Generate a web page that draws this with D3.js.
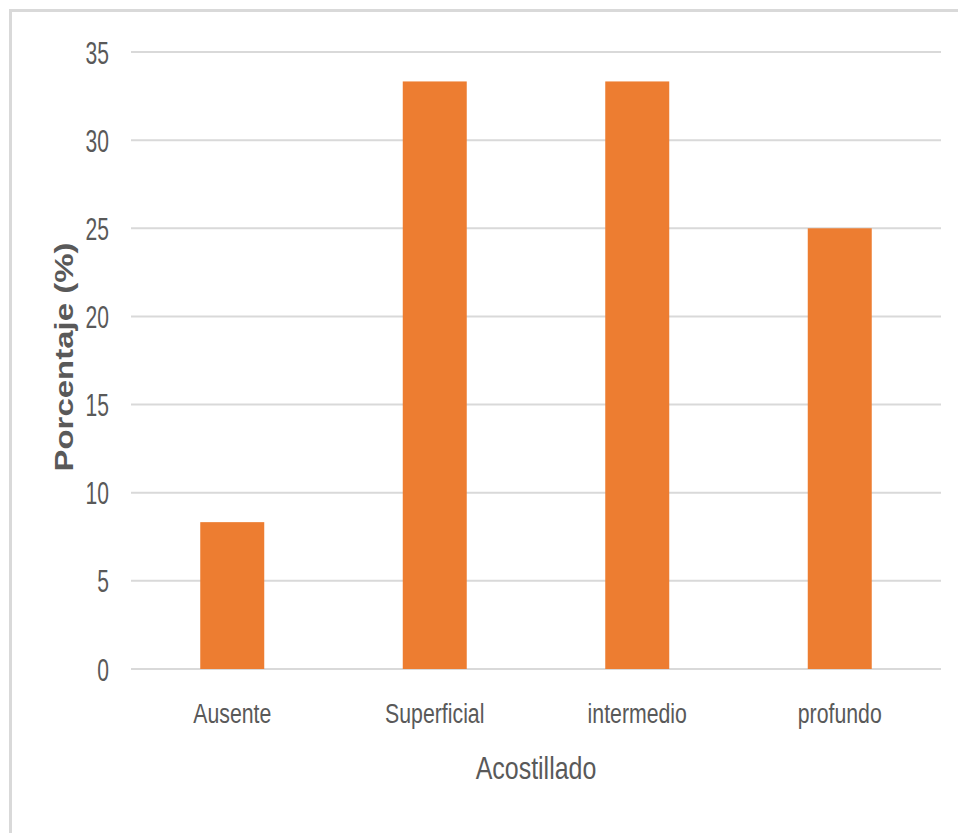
<!DOCTYPE html>
<html>
<head>
<meta charset="utf-8">
<script src="https://cdn.jsdelivr.net/npm/d3@7"></script>
<style>
  html, body { margin: 0; padding: 0; background: #ffffff; }
  svg { display: block; }
</style>
</head>
<body>
<script>
// Acostillado: share of cases per category (%)
const categories = ["Ausente", "Superficial", "intermedio", "profundo"];
const percentages = [8.33, 33.33, 33.33, 25];
const yTicks = [0, 5, 10, 15, 20, 25, 30, 35];
const xTitle = "Acostillado";
const yTitle = "Porcentaje (%)";

const W = 958, H = 833;
const margin = { left: 131, right: 17, top: 52, bottom: 164 };
const plotW = W - margin.left - margin.right;
const plotH = H - margin.top - margin.bottom;

const svg = d3.select("body").append("svg")
  .attr("width", W).attr("height", H);

// chart area frame (top and left edges)
svg.append("line").attr("x1", 10.5).attr("x2", W).attr("y1", 10.5).attr("y2", 10.5)
  .attr("stroke", "#d9d9d9").attr("stroke-width", 3);
svg.append("line").attr("x1", 10.5).attr("x2", 10.5).attr("y1", 9).attr("y2", H)
  .attr("stroke", "#d9d9d9").attr("stroke-width", 3);

const g = svg.append("g").attr("transform", `translate(${margin.left},${margin.top})`);

const x = d3.scaleBand().domain(categories).range([0, plotW])
  .paddingInner(0.684).paddingOuter(0.342);
const y = d3.scaleLinear().domain([0, 35]).range([plotH, 0]);

// horizontal gridlines
g.append("g").selectAll("line").data(yTicks).join("line")
  .attr("x1", 0).attr("x2", plotW)
  .attr("y1", d => y(d)).attr("y2", d => y(d))
  .attr("stroke", "#d9d9d9").attr("stroke-width", 2);

// bars
g.append("g").selectAll("rect").data(categories).join("rect")
  .attr("x", d => x(d))
  .attr("width", x.bandwidth())
  .attr("y", (d, i) => y(percentages[i]))
  .attr("height", (d, i) => y(0) - y(percentages[i]))
  .attr("fill", "#ED7D31");

const font = "'Liberation Sans', Arial, sans-serif";

// y axis labels
const yAxis = g.append("g").call(d3.axisLeft(y).tickValues(yTicks).tickSize(0).tickFormat(d3.format("d")));
yAxis.select(".domain").remove();
yAxis.selectAll("text")
  .attr("x", 0).attr("dy", null)
  .attr("transform", "translate(-22,11) scale(0.68,1)")
  .attr("fill", "#595959")
  .attr("font-family", font).attr("font-size", 31)
  .attr("text-anchor", "end");

// x axis labels
const xAxis = g.append("g").attr("transform", `translate(0,${plotH})`)
  .call(d3.axisBottom(x).tickSize(0));
xAxis.select(".domain").remove();
xAxis.selectAll("text")
  .attr("y", 0).attr("dy", null)
  .attr("transform", "translate(0,54) scale(0.76,1)")
  .attr("fill", "#595959")
  .attr("font-family", font).attr("font-size", 28)
  .attr("text-anchor", "middle");

// axis titles
svg.append("text")
  .attr("transform", `translate(${margin.left + plotW / 2},779) scale(0.78,1)`)
  .attr("text-anchor", "middle")
  .attr("fill", "#595959")
  .attr("font-family", font).attr("font-size", 32)
  .text(xTitle);

svg.append("text")
  .attr("transform", `translate(73,357) rotate(-90) scale(1,0.76)`)
  .attr("text-anchor", "middle")
  .attr("fill", "#595959")
  .attr("font-family", font).attr("font-size", 33).attr("font-weight", "bold")
  .text(yTitle);
</script>
</body>
</html>
